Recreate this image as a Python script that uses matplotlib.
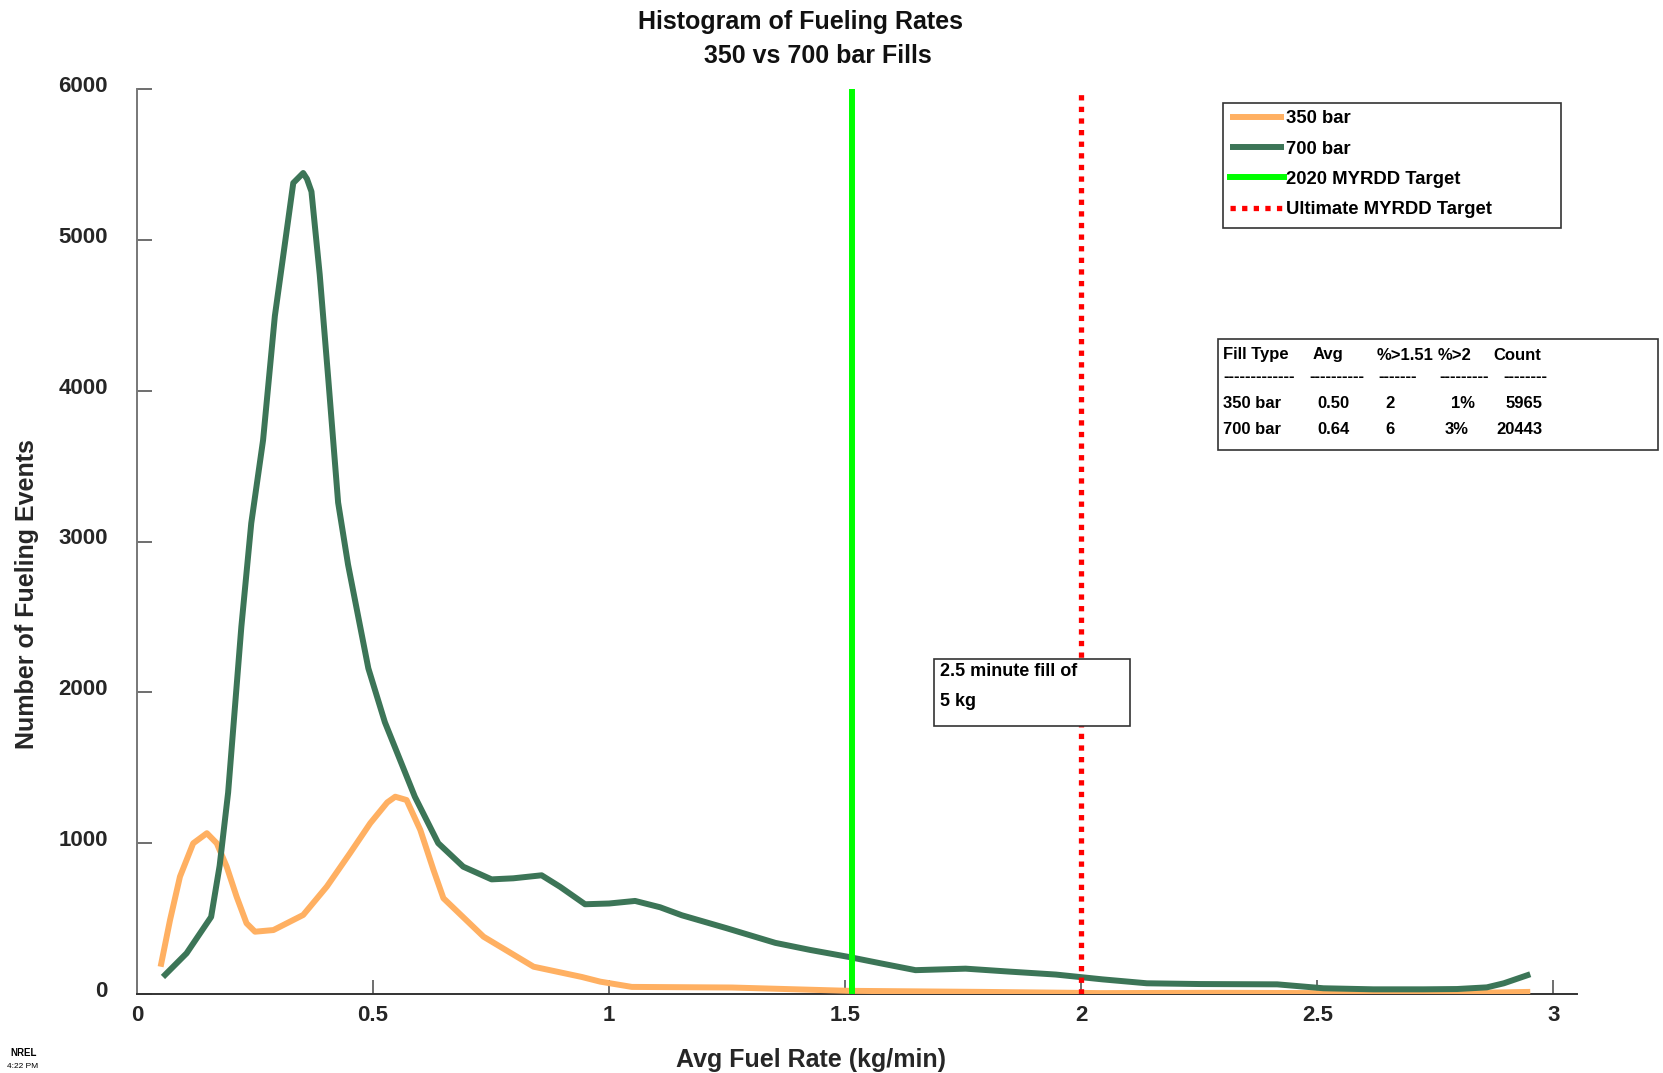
import numpy as np
import matplotlib
matplotlib.use('Agg')
import matplotlib.pyplot as plt
from matplotlib.patches import Rectangle
import matplotlib.transforms as mtransforms

plt.rcParams['font.family'] = ['Liberation Sans', 'DejaVu Sans']
plt.rcParams['font.weight'] = 'bold'

W, H = 1663, 1073

# ---------------- data ----------------
rate_350 = [0.05, 0.07, 0.091, 0.119, 0.148, 0.169, 0.19, 0.211, 0.232, 0.25, 0.289,
            0.352, 0.402, 0.451, 0.494, 0.53, 0.547, 0.571, 0.60, 0.628, 0.649, 0.734,
            0.84, 0.942, 0.981, 1.048, 1.26, 1.508, 1.79, 2.04, 2.3, 2.6, 2.8, 2.951]
count_350 = [181, 491, 778, 999, 1066, 999, 844, 645, 469, 413, 424,
             524, 712, 933, 1132, 1270, 1308, 1286, 1088, 822, 635, 380,
             181, 113, 82, 47, 43, 21, 14, 6, 8, 5, 6, 14]

rate_700 = [0.055, 0.105, 0.157, 0.175, 0.193, 0.221, 0.242, 0.267, 0.292, 0.32, 0.331,
            0.352, 0.36, 0.3695, 0.387, 0.405, 0.426, 0.447, 0.49, 0.525, 0.5885, 0.638,
            0.691, 0.751, 0.797, 0.857, 0.896, 0.949, 1.0, 1.055, 1.108, 1.154, 1.249,
            1.352, 1.426, 1.507, 1.574, 1.649, 1.755, 1.85, 1.946, 2.045, 2.139,
            2.252, 2.415, 2.513, 2.619, 2.725, 2.796, 2.859, 2.895, 2.951]
count_700 = [113, 270, 511, 850, 1335, 2434, 3121, 3671, 4495, 5127, 5377,
             5443, 5404, 5320, 4770, 4083, 3258, 2847, 2159, 1802, 1308, 1000,
             844, 760, 767, 787, 711, 595, 600, 617, 575, 522, 436,
             339, 292, 246, 204, 158, 168, 148, 129, 97, 71,
             66, 64, 38, 31, 31, 33, 44, 71, 131]

target_2020 = 1.515
target_ultimate = 2.0

x_ticks = [0, 0.5, 1, 1.5, 2, 2.5, 3]
x_tick_labels = ['0', '0.5', '1', '1.5', '2', '2.5', '3']
y_ticks = [0, 1000, 2000, 3000, 4000, 5000, 6000]

series_labels = ['350 bar', '700 bar', '2020 MYRDD Target', 'Ultimate MYRDD Target']

table_header = ['Fill Type', 'Avg', '%>1.51', '%>2', 'Count']
table_dashes = ['-------------', '----------', '-------', '---------', '--------']
table_350 = ['350 bar', '0.50', '2', '1%', '5965']
table_700 = ['700 bar', '0.64', '6', '3%', '20443']

C_350 = '#FFB062'
C_700 = '#3C7557'
C_2020 = '#00FF00'
C_ULT = '#FF0000'
TXT = '#262626'


def fx(px):
    return px / W


def fy(py):
    return 1 - py / H


fig = plt.figure(figsize=(W / 100, H / 100), dpi=100)
ax = fig.add_axes([fx(137), fy(994), (1577 - 137) / W, (994 - 89) / H])

l350, = ax.plot(rate_350, count_350, color=C_350, lw=4.3, solid_capstyle='butt',
                solid_joinstyle='round', zorder=3)
l700, = ax.plot(rate_700, count_700, color=C_700, lw=4.3, solid_capstyle='butt',
                solid_joinstyle='round', zorder=3)
lg = ax.axvline(target_2020, color=C_2020, lw=4.3, zorder=4)
lr = ax.axvline(target_ultimate, color=C_ULT, lw=3.8, ls=(0, (1, 1.2)),
                dash_capstyle='butt', zorder=4)

ax.set_xlim(0, 3.05)
ax.set_ylim(0, 6000)
ax.set_xticks(x_ticks)
ax.set_xticklabels(x_tick_labels)
ax.set_yticks(y_ticks)
for s in ['top', 'right']:
    ax.spines[s].set_visible(False)
ax.spines['left'].set_color('#777777')
ax.spines['left'].set_linewidth(1.4)
ax.spines['bottom'].set_color('#333333')
ax.spines['bottom'].set_linewidth(1.4)
ax.tick_params(axis='y', direction='in', length=11, width=1.2, color='#555555',
               pad=21, labelsize=16, labelcolor=TXT)
ax.tick_params(axis='x', direction='in', length=10, width=1.2, color='#555555',
               pad=8, labelsize=16, labelcolor=TXT)
for lbl in ax.get_xticklabels() + ax.get_yticklabels():
    lbl.set_fontweight('bold')
offset = mtransforms.ScaledTranslation(0, 5 / 100, fig.dpi_scale_trans)
for tick in ax.yaxis.get_major_ticks():
    tick.label1.set_transform(tick.label1.get_transform() + offset)

# titles / axis labels
fig.text(fx(801), fy(22), 'Histogram of Fueling Rates', ha='center', va='center',
         fontsize=18, fontweight='bold', color='#111111')
fig.text(fx(818), fy(56), '350 vs 700 bar Fills', ha='center', va='center',
         fontsize=18, fontweight='bold', color='#111111')
fig.text(fx(27), fy(594), 'Number of Fueling Events', rotation=90, ha='center',
         va='center', fontsize=18, fontweight='bold', color=TXT)
fig.text(fx(811), fy(1060), 'Avg Fuel Rate (kg/min)', ha='center', va='center',
         fontsize=18, fontweight='bold', color=TXT)

# legend
fig.add_artist(Rectangle((fx(1223), fy(228)), (1561 - 1223) / W, (228 - 103) / H,
                         transform=fig.transFigure, fill=True, facecolor='white',
                         edgecolor='#333333', lw=1.2, zorder=5))
leg = fig.legend([l350, l700, lg, lr], series_labels, loc='upper left',
                 bbox_to_anchor=(fx(1221), fy(101)), frameon=False, borderpad=0,
                 handlelength=2.9, handletextpad=0.1, labelspacing=0.72,
                 prop={'size': 13.3, 'weight': 'bold'})
leg.set_zorder(6)

# stats table
fig.add_artist(Rectangle((fx(1218), fy(450)), (1658 - 1218) / W, (450 - 339) / H,
                         transform=fig.transFigure, facecolor='white',
                         edgecolor='#333333', lw=1.2, zorder=5))
col_x = [1223, 1313, 1377, 1438, 1493]
dash_x = [1223, 1309, 1378, 1439, 1503]
r350_x = [1223, 1317, 1385, 1451, 1506]
r700_x = [1223, 1317, 1385, 1445, 1496]
rows = [(table_header, col_x, 355), (table_dashes, dash_x, 377),
        (table_350, r350_x, 403), (table_700, r700_x, 429)]
for cells, xs, ypix in rows:
    for txt, xpix in zip(cells, xs):
        fig.text(fx(xpix), fy(ypix), txt, ha='left', va='center', fontsize=12,
                 fontweight='bold', color='black', zorder=6)

# annotation box
fig.add_artist(Rectangle((fx(934), fy(726)), (1130 - 934) / W, (726 - 659) / H,
                         transform=fig.transFigure, facecolor='white',
                         edgecolor='#333333', lw=1.2, zorder=5))
fig.text(fx(940), fy(672), '2.5 minute fill of', ha='left', va='center',
         fontsize=13, fontweight='bold', color='black', zorder=6)
fig.text(fx(940), fy(701), '5 kg', ha='left', va='center',
         fontsize=13, fontweight='bold', color='black', zorder=6)

# corner stamp
fig.text(fx(10), fy(1053), 'NREL', ha='left', va='center', fontsize=7,
         fontweight='bold', color='black')
fig.text(fx(7), fy(1066), '4:22 PM', ha='left', va='center', fontsize=6,
         fontweight='normal', color='black')

fig.savefig('out.png', dpi=100)
